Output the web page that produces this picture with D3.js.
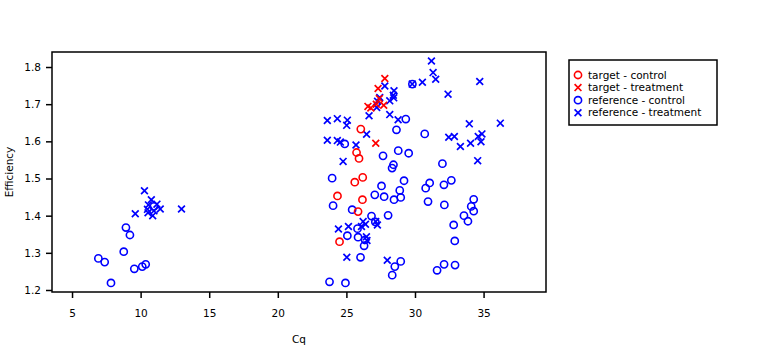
<!DOCTYPE html>
<html><head><meta charset="utf-8">
<script src="https://cdn.jsdelivr.net/npm/d3@7"></script>
<style>body{margin:0;background:#fff}svg{display:block}</style>
</head><body><svg id="c" width="767" height="358"></svg>
<script>
const xTicks = [5, 10, 15, 20, 25, 30, 35];
const yTicks = [1.2, 1.3, 1.4, 1.5, 1.6, 1.7, 1.8];
const seriesNames = ["target - control", "target - treatment", "reference - control", "reference - treatment"];

const targetControlCq = [26.05, 25.74, 25.92, 25.61, 26.19, 24.35, 26.17, 25.85, 24.5];
const targetControlEff = [1.633, 1.570, 1.554, 1.490, 1.503, 1.453, 1.443, 1.411, 1.330];

const targetTreatmentCq = [27.8, 27.31, 27.14, 26.57, 26.78, 27.18, 27.72, 27.4];
const targetTreatmentEff = [1.769, 1.742, 1.595, 1.694, 1.690, 1.700, 1.697, 1.715];

const referenceControlCq = [8.93, 9.22, 8.77, 6.92, 7.38, 9.54, 10.12, 10.37, 7.84, 10.97,
  23.96, 24.03, 24.88, 27.67, 28.43, 28.33, 27.56, 27.07, 27.75, 28.47,
  28.89, 28.96, 25.42, 28.04, 26.83, 27.11, 25.81, 25.07, 25.85, 26.36,
  26.29, 26.03, 28.96, 28.53, 28.34, 23.77, 24.93, 28.65, 28.78, 29.2,
  29.54, 29.33, 29.81, 30.71, 32.0, 31.07, 30.78, 32.11, 32.65, 30.95,
  32.14, 34.28, 34.1, 34.28, 33.57, 33.86, 32.82, 32.9, 31.61, 32.12, 32.92];
const referenceControlEff = [1.368, 1.348, 1.303, 1.285, 1.275, 1.257, 1.263, 1.269, 1.219, 1.425,
  1.501, 1.427, 1.593, 1.561, 1.537, 1.528, 1.480, 1.456, 1.451, 1.443,
  1.468, 1.449, 1.416, 1.401, 1.399, 1.383, 1.365, 1.346, 1.342, 1.335,
  1.319, 1.288, 1.277, 1.263, 1.240, 1.222, 1.219, 1.631, 1.575, 1.494,
  1.568, 1.660, 1.754, 1.620, 1.540, 1.488, 1.474, 1.483, 1.495, 1.438,
  1.429, 1.444, 1.425, 1.412, 1.400, 1.385, 1.375, 1.332, 1.253, 1.269, 1.267];

const referenceTreatmentCq = [10.28, 9.61, 10.78, 10.57, 10.5, 11.19, 11.43, 10.97, 10.88, 10.54, 12.98,
  23.61, 24.34, 25.07, 25.02, 23.61, 24.34, 24.56, 25.7, 24.76, 26.47,
  26.65, 28.16, 27.8, 28.47, 28.42, 28.45, 28.16, 27.43, 27.27, 27.21,
  28.77, 29.8, 30.54, 31.2, 31.32, 31.51, 34.72, 32.41, 33.96, 36.22,
  32.46, 32.87, 33.31, 34.05, 34.61, 34.88, 34.81, 34.57, 24.42, 25.15,
  26.22, 26.39, 26.1, 27.26, 27.14, 26.46, 26.5, 25.03, 27.98];
const referenceTreatmentEff = [1.467, 1.405, 1.443, 1.429, 1.417, 1.431, 1.418, 1.413, 1.400, 1.408, 1.418,
  1.656, 1.661, 1.657, 1.643, 1.603, 1.602, 1.598, 1.590, 1.546, 1.619,
  1.669, 1.672, 1.749, 1.736, 1.724, 1.717, 1.709, 1.718, 1.708, 1.691,
  1.658, 1.754, 1.759, 1.816, 1.785, 1.767, 1.761, 1.727, 1.647, 1.649,
  1.611, 1.613, 1.586, 1.595, 1.613, 1.620, 1.599, 1.548, 1.364, 1.371,
  1.384, 1.377, 1.371, 1.375, 1.384, 1.343, 1.333, 1.288, 1.280];

const svg = d3.select("#c");
const font = "DejaVu Sans, sans-serif";
const L = 52, R = 546, T = 52, B = 292;
const x = d3.scaleLinear().domain([3.54, 39.55]).range([L, R]);
const y = d3.scaleLinear().domain([1.1946, 1.8404]).range([B, T]);

const xAxis = svg.append("g").attr("transform", `translate(0,${B})`)
  .call(d3.axisBottom(x).tickValues(xTicks).tickSize(6).tickPadding(12).tickFormat(d3.format("d")));
const yAxis = svg.append("g").attr("transform", `translate(${L},0)`)
  .call(d3.axisLeft(y).tickValues(yTicks).tickSize(6).tickPadding(5).tickFormat(d3.format(".1f")));
[xAxis, yAxis].forEach(a => {
  a.select(".domain").remove();
  a.selectAll("line").attr("stroke", "#000").attr("stroke-width", 1.5);
  a.selectAll("text").attr("font-family", font).attr("font-size", 10.5).attr("fill", "#000");
});

svg.append("text").attr("x", (L + R) / 2).attr("y", 343).attr("text-anchor", "middle")
  .attr("font-family", font).attr("font-size", 10.5).text("Cq");
svg.append("text").attr("transform", `translate(13,${(T + B) / 2}) rotate(-90)`).attr("text-anchor", "middle")
  .attr("font-family", font).attr("font-size", 10.5).text("Efficiency");

const plot = svg.append("g");
function circles(cq, eff, color) {
  plot.append("g").selectAll("circle").data(cq.map((c, i) => [c, eff[i]])).join("circle")
    .attr("cx", d => x(d[0])).attr("cy", d => y(d[1])).attr("r", 3.6)
    .attr("fill", "none").attr("stroke", color).attr("stroke-width", 1.6);
}
function crosses(cq, eff, color) {
  const s = 3.4;
  plot.append("g").selectAll("path").data(cq.map((c, i) => [c, eff[i]])).join("path")
    .attr("d", d => { const px = x(d[0]), py = y(d[1]);
      return `M${px - s},${py - s}L${px + s},${py + s}M${px - s},${py + s}L${px + s},${py - s}`; })
    .attr("stroke", color).attr("stroke-width", 1.7).attr("fill", "none");
}
circles(referenceControlCq, referenceControlEff, "#0000ff");
crosses(referenceTreatmentCq, referenceTreatmentEff, "#0000ff");
circles(targetControlCq, targetControlEff, "#ff0000");
crosses(targetTreatmentCq, targetTreatmentEff, "#ff0000");

svg.append("rect").attr("x", L).attr("y", T).attr("width", R - L).attr("height", B - T)
  .attr("fill", "none").attr("stroke", "#000").attr("stroke-width", 1.5);

// legend
const lg = svg.append("g");
lg.append("rect").attr("x", 569).attr("y", 60).attr("width", 148).attr("height", 65)
  .attr("fill", "#fff").attr("stroke", "#000").attr("stroke-width", 1.5);
const colors = ["#ff0000", "#ff0000", "#0000ff", "#0000ff"];
const shapes = ["o", "x", "o", "x"];
seriesNames.forEach((name, i) => {
  const yy = 75 + i * 12.6, xx = 578;
  if (shapes[i] === "o") {
    lg.append("circle").attr("cx", xx).attr("cy", yy).attr("r", 3.6).attr("fill", "none")
      .attr("stroke", colors[i]).attr("stroke-width", 1.6);
  } else {
    const s = 3.4;
    lg.append("path").attr("d", `M${xx - s},${yy - s}L${xx + s},${yy + s}M${xx - s},${yy + s}L${xx + s},${yy - s}`)
      .attr("stroke", colors[i]).attr("stroke-width", 1.7);
  }
  lg.append("text").attr("x", 588).attr("y", yy).attr("dy", "0.35em")
    .attr("font-family", font).attr("font-size", 10.5).text(name);
});
</script></body></html>
